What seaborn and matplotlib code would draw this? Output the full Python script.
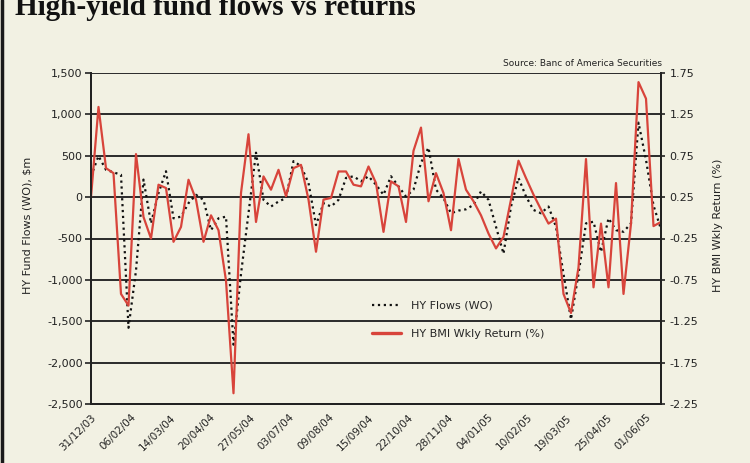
import pandas as pd
import matplotlib
matplotlib.use('Agg')
from matplotlib.figure import Figure
from matplotlib.lines import Line2D
import seaborn as sns

# weekly series, first week 31/12/03
start_date = '2003-12-31'
n_weeks = 77

# HY Flows (WO), $m
flows = [252, 497, 330, 300, 270, -1579, -887, 212, -317, 49,
         313, -256, -236, -73, 28, -33, -399, -256, -236, -1783,
         -928, -195, 537, -33, -114, -53, -12, 435, 374, 171,
         -338, -73, -114, -33, 232, 252, 191, 252, 150, 28,
         252, 130, 8, 90, 415, 598, 90, -12, -195, -163,
         -147, -94, 69, -33, -358, -684, -114, 232, 8, -155,
         -195, -114, -358, -928, -1477, -928, -317, -297, -663, -256,
         -399, -419, -317, 900, 450, -100, -390]

# HY BMI Wkly Return (%)
returns = [0.25, 1.34, 0.60, 0.54, -0.92, -1.06, 0.77, 0.01, -0.25, 0.40,
           0.36, -0.29, -0.11, 0.46, 0.22, -0.29, 0.03, -0.15, -0.76, -2.12,
           0.30, 1.01, -0.05, 0.50, 0.34, 0.58, 0.26, 0.60, 0.64, 0.22,
           -0.41, 0.22, 0.24, 0.56, 0.56, 0.40, 0.38, 0.62, 0.42, -0.17,
           0.44, 0.38, -0.05, 0.81, 1.09, 0.20, 0.54, 0.30, -0.15, 0.71,
           0.34, 0.20, 0.03, -0.19, -0.37, -0.23, 0.22, 0.69, 0.48, 0.28,
           0.10, -0.07, -0.01, -0.92, -1.15, -0.60, 0.71, -0.84, -0.07, -0.84,
           0.42, -0.92, -0.07, 1.64, 1.44, -0.10, -0.05]

date_labels = ['31/12/03', '06/02/04', '14/03/04', '20/04/04', '27/05/04',
               '03/07/04', '09/08/04', '15/09/04', '22/10/04', '28/11/04',
               '04/01/05', '10/02/05', '19/03/05', '25/04/05', '01/06/05']
left_ticks = [1500, 1000, 500, 0, -500, -1000, -1500, -2000, -2500]
left_labels = ['1,500', '1,000', '500', '0', '-500', '-1,000', '-1,500', '-2,000', '-2,500']
right_ticks = [1.75, 1.25, 0.75, 0.25, -0.25, -0.75, -1.25, -1.75, -2.25]
right_labels = ['1.75', '1.25', '0.75', '0.25', '-0.25', '-0.75', '-1.25', '-1.75', '-2.25']

df = pd.DataFrame({
    'week': pd.date_range(start_date, periods=n_weeks, freq='7D'),
    'flows': flows,
    'returns': returns,
})

bg = '#f2f1e3'
red = '#d8443b'
ink = '#222222'

sns.set_style('white')
matplotlib.rcParams['font.family'] = ['Liberation Sans Narrow', 'DejaVu Sans']

fig = Figure(figsize=(7.5, 4.63), dpi=100, facecolor=bg)
ax = fig.add_axes([91 / 750, 1 - 404 / 463, 570 / 750, 331 / 463])
ax.set_facecolor(bg)

sns.lineplot(data=df, x='week', y='flows', ax=ax, color='#111111',
             linestyle=':', linewidth=1.6, label='HY Flows (WO)', legend=False)
ax2 = ax.twinx()
sns.lineplot(data=df, x='week', y='returns', ax=ax2, color=red,
             linewidth=1.6, label='HY BMI Wkly Return (%)', legend=False)

ax.set_xlim(df['week'].iloc[0], df['week'].iloc[-1])
ax.set_ylim(-2500, 1500)
ax2.set_ylim(-2.25, 1.75)

ax.set_yticks(left_ticks)
ax.set_yticklabels(left_labels)
ax2.set_yticks(right_ticks)
ax2.set_yticklabels(right_labels)
ax.set_xticks(pd.to_datetime(date_labels, format='%d/%m/%y'))
ax.set_xticklabels(date_labels, rotation=45, ha='right', rotation_mode='anchor')

ax.yaxis.grid(True, color='#2a2a2a', linewidth=1.4)
ax.set_axisbelow(True)
ax.set_xlabel('')
ax.set_ylabel('')
ax2.set_ylabel('')

for a in (ax, ax2):
    for side in ('left', 'right', 'bottom'):
        a.spines[side].set_color(ink)
        a.spines[side].set_linewidth(1.4)
    a.spines['top'].set_visible(False)
    a.tick_params(colors=ink, labelsize=8, length=4, width=1.2)
ax.tick_params(axis='x', labelsize=7.5, length=3, pad=3)
ax.tick_params(axis='y', pad=2, left=True)
ax2.tick_params(axis='y', pad=3, right=True, length=3)

fig.text(28 / 750, 1 - 225 / 463, 'HY Fund Flows (WO), $m', rotation=90,
         ha='center', va='center', fontsize=8, color=ink)
fig.text(718 / 750, 1 - 225 / 463, 'HY BMI Wkly Return (%)', rotation=90,
         ha='center', va='center', fontsize=8, color=ink)
fig.text(662 / 750, 1 - 63 / 463, 'Source: Banc of America Securities',
         ha='right', va='center', fontsize=6.5, color=ink)
fig.text(15 / 750, 1 - 15 / 463, 'High-yield fund flows vs returns',
         ha='left', va='baseline', fontsize=21, fontweight='bold',
         family=['Liberation Serif', 'DejaVu Serif'], color='#111111')

handles = [Line2D([], [], color='#111111', linestyle=':', linewidth=1.6),
           Line2D([], [], color=red, linewidth=2.4)]
ax2.legend(handles, ['HY Flows (WO)', 'HY BMI Wkly Return (%)'],
           loc='upper left', bbox_to_anchor=(362 / 750, 1 - 291 / 463),
           bbox_transform=fig.transFigure, frameon=False, fontsize=8,
           labelspacing=1.6, handlelength=2.6, handletextpad=0.9)

fig.add_artist(Line2D([0.002, 0.002], [0, 1], color='#1a1a1a', linewidth=2.5,
                      transform=fig.transFigure))

fig.savefig('out.png', facecolor=bg)
